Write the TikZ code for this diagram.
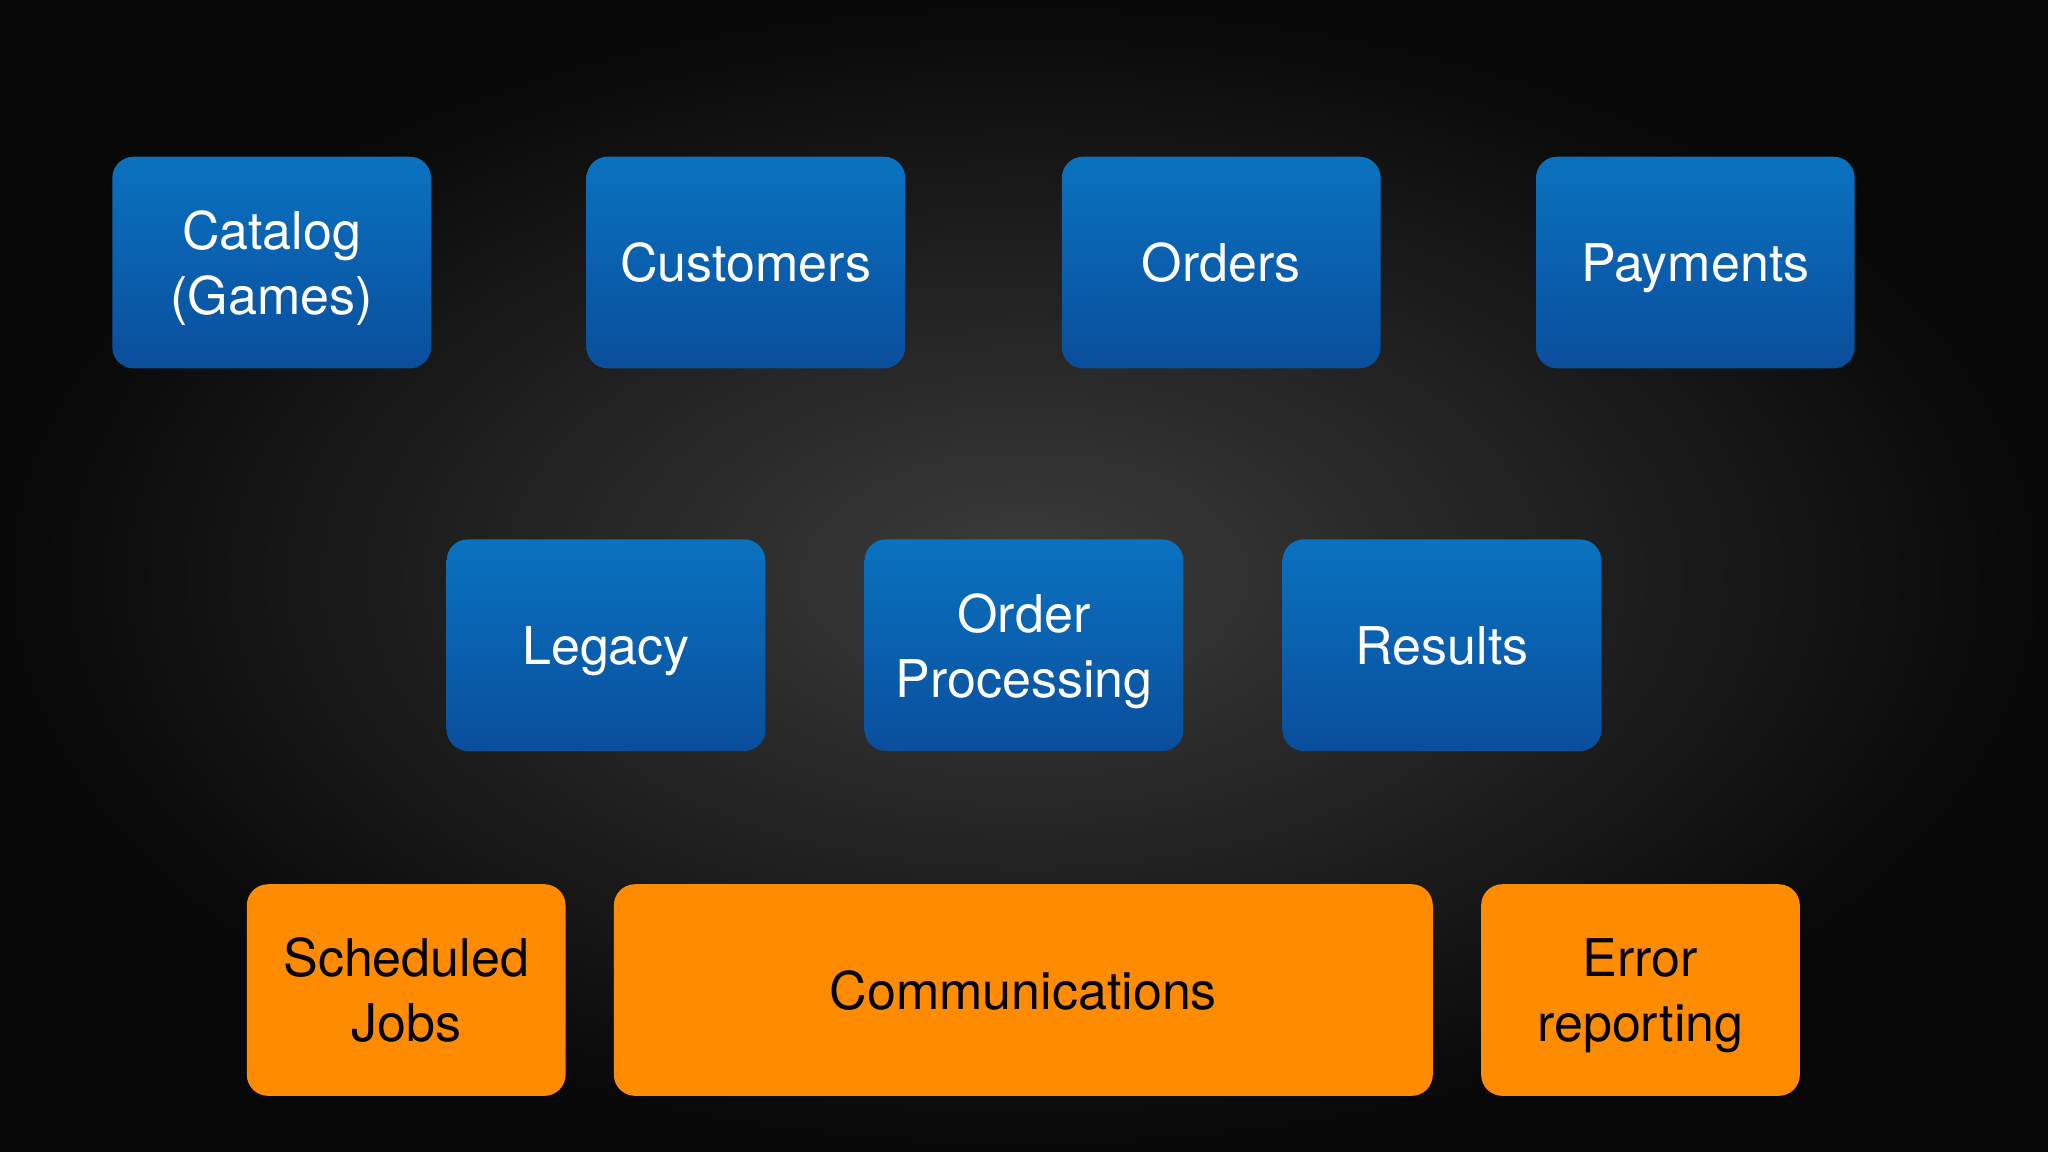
\documentclass[tikz,border=0pt]{standalone}
\usepackage{fontspec}
\setmainfont{TeX Gyre Heros}
\definecolor{bluetop}{HTML}{0A72C0}
\definecolor{bluebot}{HTML}{0A4E9C}
\definecolor{orng}{HTML}{FF8C00}
\definecolor{bgmid}{HTML}{3C3C3C}
\definecolor{bgout}{HTML}{080808}
\begin{document}
\begin{tikzpicture}[x=0.013061cm,y=-0.013061cm,
  box/.style={rounded corners=6pt,inner sep=0pt,align=center,font=\fontsize{14.8}{18.5}\selectfont,text depth=0pt},
  blue/.style={box,top color=bluetop,bottom color=bluebot,text=white},
  org/.style={box,fill=orng,text=black}]
\useasboundingbox (0,0) rectangle (1568,882);
\shade[inner color=bgmid,outer color=bgout] (0,0) rectangle (1568,882);
\newcommand{\bx}[6]{\node[#1,minimum width={(#4-#3)*0.013061cm},minimum height={(#6-#5)*0.013061cm}] (#2) at ({(#3+#4)/2},{(#5+#6)/2})}
\bx{blue}{cat}{86}{330}{120}{282}{Catalog\\(Games)};
\bx{blue}{cus}{449}{693}{120}{282}{Customers};
\bx{blue}{ord}{813}{1057}{120}{282}{Orders};
\bx{blue}{pay}{1176}{1420}{120}{282}{Payments};
\bx{blue}{leg}{342}{586}{413}{575}{Legacy};
\bx{blue}{op}{662}{906}{413}{575}{Order\\Processing};
\bx{blue}{res}{982}{1226}{413}{575}{Results};
\bx{org}{sch}{189}{433}{677}{839}{Scheduled\\Jobs};
\bx{org}{com}{470}{1097}{677}{839}{Communications};
\bx{org}{err}{1134}{1378}{677}{839}{Error\\reporting};
\end{tikzpicture}
\end{document}
